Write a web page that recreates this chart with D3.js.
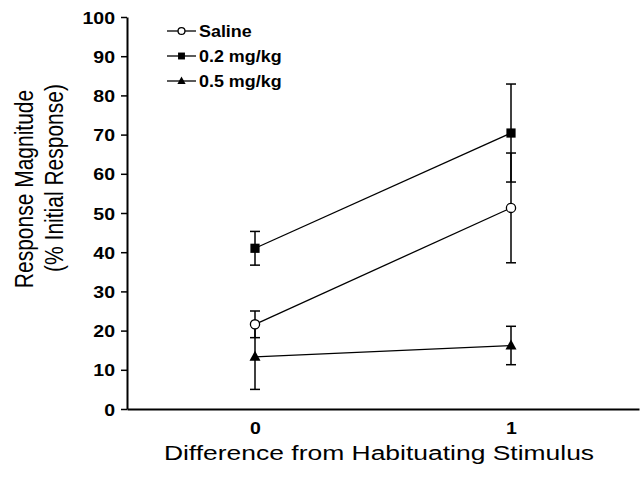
<!DOCTYPE html>
<html lang="en">
<head>
<meta charset="utf-8">
<style>
  body { margin: 0; background: #fff; }
  svg { display: block; }
  text { font-family: "Liberation Sans", Arial, sans-serif; fill: #000; }
</style>
</head>
<body>
<svg id="chart" width="641" height="480"></svg>
<script src="https://cdn.jsdelivr.net/npm/d3@7"></script>
<script>

    // data
    var xValues = [0, 1];
    var seriesNames = ["Saline", "0.2 mg/kg", "0.5 mg/kg"];
    var seriesSymbols = ["circle", "square", "triangle"];
    var salineMean = [21.6, 51.3];
    var salineErr = [3.4, 14.0];
    var mg02Mean = [41.0, 70.4];
    var mg02Err = [4.3, 12.5];
    var mg05Mean = [13.3, 16.2];
    var mg05Err = [8.3, 4.9];
    var yTicks = [0, 10, 20, 30, 40, 50, 60, 70, 80, 90, 100];
    var xTicks = [0, 1];

    var svg = d3.select("#chart");

    var x = d3.scaleLinear().domain([-0.5, 1.5]).range([127, 639]);
    var y = d3.scaleLinear().domain([0, 100]).range([409, 17]);

    var series = [
        {name: seriesNames[0], symbol: seriesSymbols[0], mean: salineMean, err: salineErr},
        {name: seriesNames[1], symbol: seriesSymbols[1], mean: mg02Mean, err: mg02Err},
        {name: seriesNames[2], symbol: seriesSymbols[2], mean: mg05Mean, err: mg05Err}
    ];

    var drawMarker = function (g, symbol, cx, cy, s) {
        if (symbol == "circle") {
            g.append("circle")
                .attr("cx", cx).attr("cy", cy).attr("r", 4.6 * s)
                .attr("fill", "#fff").attr("stroke", "#000").attr("stroke-width", 1.3);
        } else if (symbol == "square") {
            g.append("rect")
                .attr("x", cx - 4.6 * s).attr("y", cy - 4.6 * s)
                .attr("width", 9.2 * s).attr("height", 9.2 * s)
                .attr("fill", "#000");
        } else {
            var h = 10 * s, w = 11 * s;
            g.append("path")
                .attr("d", "M" + cx + "," + (cy - h * 0.6) +
                    "L" + (cx + w / 2) + "," + (cy + h * 0.4) +
                    "L" + (cx - w / 2) + "," + (cy + h * 0.4) + "Z")
                .attr("fill", "#000");
        }
    };

    // axes
    var yAxis = svg.append("g")
        .attr("transform", "translate(127,0)")
        .call(d3.axisLeft(y).tickValues(yTicks).tickSize(6).tickSizeOuter(0));
    yAxis.select(".domain").attr("stroke-width", 2);
    yAxis.selectAll(".tick line").attr("stroke-width", 1.5);
    yAxis.selectAll(".tick text")
        .attr("x", 0).attr("dy", null).attr("y", 6)
        .attr("transform", "translate(-12,0) scale(1.22,1)")
        .style("font-size", "16px").style("font-weight", "bold")
        .style("font-family", "Liberation Sans, Arial, sans-serif");

    var xAxis = svg.append("g")
        .attr("transform", "translate(0,409)")
        .call(d3.axisBottom(x).tickValues(xTicks).tickFormat(d3.format("d"))
            .tickSize(0).tickSizeOuter(0));
    xAxis.select(".domain").attr("stroke-width", 2);
    xAxis.selectAll(".tick text")
        .attr("y", 0).attr("dy", null)
        .attr("transform", "translate(0,25) scale(1.22,1)")
        .style("font-size", "16px").style("font-weight", "bold")
        .style("font-family", "Liberation Sans, Arial, sans-serif");

    // axis titles
    svg.append("text")
        .attr("text-anchor", "middle")
        .attr("transform", "translate(379,460) scale(1.26,1)")
        .style("font-size", "21px")
        .text("Difference from Habituating Stimulus");

    svg.append("text")
        .attr("text-anchor", "middle")
        .attr("transform", "translate(33,189) scale(1.2,1) rotate(-90)")
        .style("font-size", "21px")
        .text("Response Magnitude");

    svg.append("text")
        .attr("text-anchor", "middle")
        .attr("transform", "translate(63,178) scale(1.2,1) rotate(-90)")
        .style("font-size", "21px")
        .text("(% Initial Response)");

    // lines
    var line = d3.line()
        .x(function (d, i) { return x(xValues[i]); })
        .y(function (d) { return y(d); });

    var plot = svg.append("g");
    series.forEach(function (s) {
        plot.append("path")
            .attr("d", line(s.mean))
            .attr("fill", "none")
            .attr("stroke", "#000")
            .attr("stroke-width", 1.3);
    });

    // error bars
    series.forEach(function (s) {
        for (var i = 0; i < xValues.length; i++) {
            var cx = x(xValues[i]);
            var top = y(s.mean[i] + s.err[i]);
            var bot = y(s.mean[i] - s.err[i]);
            plot.append("line")
                .attr("x1", cx).attr("x2", cx).attr("y1", top).attr("y2", bot)
                .attr("stroke", "#000").attr("stroke-width", 1.5);
            [top, bot].forEach(function (yy) {
                plot.append("line")
                    .attr("x1", cx - 5).attr("x2", cx + 5).attr("y1", yy).attr("y2", yy)
                    .attr("stroke", "#000").attr("stroke-width", 1.5);
            });
        }
    });

    // markers
    series.forEach(function (s) {
        for (var i = 0; i < xValues.length; i++)
            drawMarker(plot, s.symbol, x(xValues[i]), y(s.mean[i]), 1);
    });

    // legend
    var legend = svg.append("g");
    var legendY = [31, 56, 81];
    series.forEach(function (s, i) {
        legend.append("line")
            .attr("x1", 167).attr("x2", 196)
            .attr("y1", legendY[i]).attr("y2", legendY[i])
            .attr("stroke", "#000").attr("stroke-width", 1.3);
        drawMarker(legend, s.symbol, 181.5, legendY[i], 0.75);
        legend.append("text")
            .attr("transform", "translate(199," + (legendY[i] + 6) + ") scale(1.12,1)")
            .style("font-size", "16px").style("font-weight", "bold")
            .text(s.name);
    });

</script>
</body>
</html>
